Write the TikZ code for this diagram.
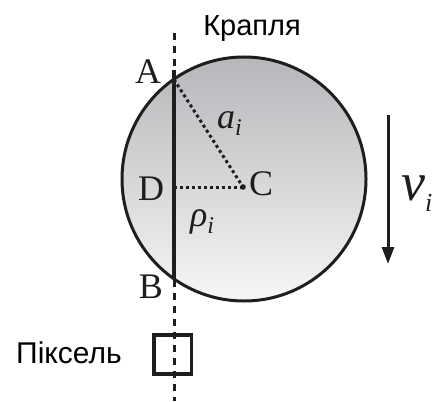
\documentclass[tikz,border=0pt]{standalone}
\usepackage{fontspec}
\setmainfont{Liberation Serif}
\newfontfamily\sansf{Liberation Sans}
\usetikzlibrary{arrows.meta}
\definecolor{dropTop}{RGB}{183,183,187}
\definecolor{dropBot}{RGB}{246,246,246}
\definecolor{ink}{RGB}{30,30,30}
\newcommand{\symsub}[3]{\fontsize{#1}{#1}\selectfont\textit{#2}\raisebox{-0.22em}{\fontsize{#3}{#3}\selectfont\textit{i}}}
\begin{document}
\begin{tikzpicture}[x=1pt,y=-1pt,
  lbl/.style={font=\fontsize{36}{40}\selectfont, text=ink, inner sep=0pt, anchor=base},
  sanslbl/.style={font=\sansf\fontsize{29}{32}\selectfont, text=black, inner sep=0pt, anchor=base},
  dotline/.style={line width=3pt, ink, dash pattern=on 3pt off 3pt},
  axisline/.style={line width=3pt, ink, dash pattern=on 7pt off 6pt},
  pixbox/.style={draw=ink, line width=3.5pt, minimum width=37.5pt, minimum height=39pt, inner sep=0pt}]
\useasboundingbox (0,0) rectangle (435,401);
\coordinate (O) at (244,179);
\shade[top color=dropTop, bottom color=dropBot] (O) circle (122);
\draw[line width=3pt, ink] (O) circle (122);
% axis
\coordinate (axTop) at (174,33);
\coordinate (axBot) at (174,401);
\draw[axisline] (axTop) -- (axBot);
% chord
\coordinate (Atop) at (174,70);
\coordinate (A) at (174,79.5);
\coordinate (B) at (174,278.5);
\coordinate (D) at (174,187);
\coordinate (C) at (243,187);
\draw[line width=3.5pt, ink] (Atop) -- (B);
\draw[dotline] (A) -- (C);
\draw[dotline] (D) -- (C);
\fill[ink] (C) circle (2.8);
% labels
\node[lbl] (Alab) at (148,84) {A};
\node[lbl] (Blab) at (151,298) {B};
\node[lbl] (Dlab) at (151,200) {D};
\node[lbl] (Clab) at (261,195) {C};
\node[inner sep=0pt, anchor=base west, text=ink] (ai) at (217,128) {\symsub{36}{a}{24}};
\node[inner sep=0pt, anchor=base west, text=ink] (rhoi) at (190,226) {\symsub{36}{ρ}{24}};
\node[inner sep=0pt, anchor=base west, text=ink] (vi) at (401,200) {\symsub{54}{v}{26}};
% velocity arrow
\coordinate (vTop) at (388,115);
\coordinate (vBot) at (388,264);
\draw[line width=3pt, ink, -{Triangle[length=17pt, width=12pt]}] (vTop) -- (vBot);
% texts
\node[sanslbl] (kr) at (252,35.7) {Крапля};
\node[sanslbl, font=\sansf\fontsize{30}{32}\selectfont] (px) at (69,363.3) {Піксель};
\node[pixbox] (pix) at (172.5,354.5) {};
\end{tikzpicture}
\end{document}
